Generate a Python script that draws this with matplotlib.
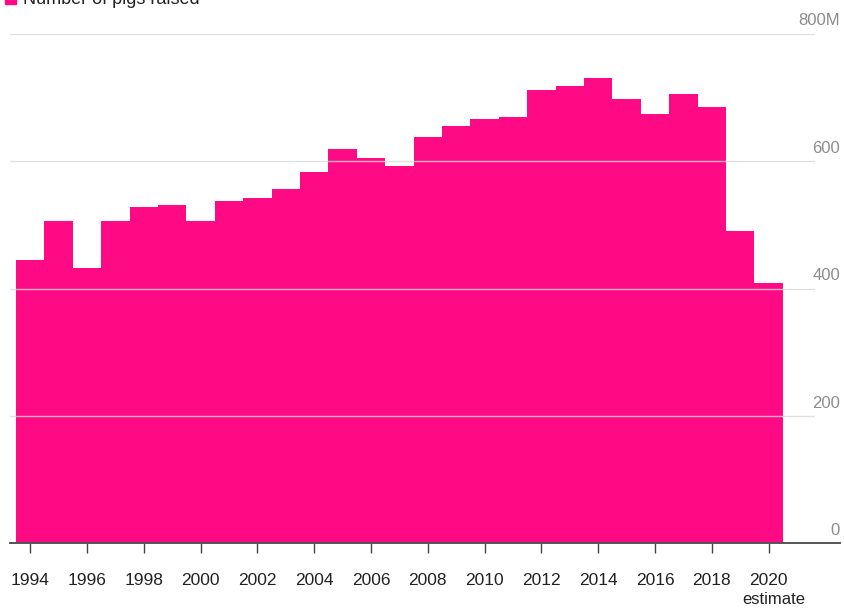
import matplotlib
matplotlib.use("Agg")
import matplotlib.pyplot as plt
from matplotlib.patches import Rectangle

# Number of pigs raised, millions
YEARS = list(range(1994, 2021))
PIGS = [445, 506, 433, 506, 528, 532, 506, 538, 543, 556, 583, 619, 606, 593,
        639, 656, 667, 670, 712, 719, 731, 698, 674, 706, 686, 490, 409]
TICK_YEARS = list(range(1994, 2021, 2))
Y_TICKS = [0, 200, 400, 600, 800]
Y_LABELS = ["0", "200", "400", "600", "800M"]
LEGEND_LABEL = "Number of pigs raised"

PINK = "#ff0a85"
GRID = "#d9d9d9"
TEXT = "#222222"
AXIS_TEXT = "#8c8c8c"

plt.rcParams["font.family"] = ["Liberation Sans", "DejaVu Sans"]

fig = plt.figure(figsize=(8.44, 6.09), dpi=100)
ax = fig.add_axes([0.0118, 0.1076, 0.9538, 0.8366])

ax.bar(YEARS, PIGS, width=1.0, color=PINK, linewidth=0, zorder=1)

# gridlines on top of the bars
for v in Y_TICKS[1:]:
    ax.axhline(v, color=GRID, lw=1.0, alpha=0.8, zorder=2)
ax.axhline(0, xmin=0, xmax=1.031, color="#555555", lw=1.4, zorder=3, clip_on=False)

for v, lab in zip(Y_TICKS, Y_LABELS):
    ax.annotate(lab, xy=(1.031, v), xycoords=("axes fraction", "data"),
                xytext=(0, 4), textcoords="offset points",
                ha="right", va="bottom", fontsize=12, color=AXIS_TEXT)

ax.set_xlim(1993.29, 2021.63)
ax.set_ylim(0, 800)
ax.set_xticks(TICK_YEARS)
ax.set_xticklabels([str(y) for y in TICK_YEARS], fontsize=12.5, color=TEXT)
ax.tick_params(axis="x", length=7, width=1, color="#444444", pad=14)
ax.annotate("estimate", xy=(TICK_YEARS[-1], 0), xycoords=("data", "axes fraction"),
            xytext=(4, -35), textcoords="offset points", ha="center", va="top",
            fontsize=12, color=TEXT)
ax.set_yticks([])
for s in ax.spines.values():
    s.set_visible(False)

# legend, partly cut off at the top edge like in the source
fig.patches.append(Rectangle((0.006, 0.994), 0.013, 0.02, transform=fig.transFigure,
                             color=PINK, clip_on=False))
fig.text(0.027, 1.0, LEGEND_LABEL, fontsize=13, color=TEXT, ha="left", va="center")

fig.savefig("out.png", dpi=100)
